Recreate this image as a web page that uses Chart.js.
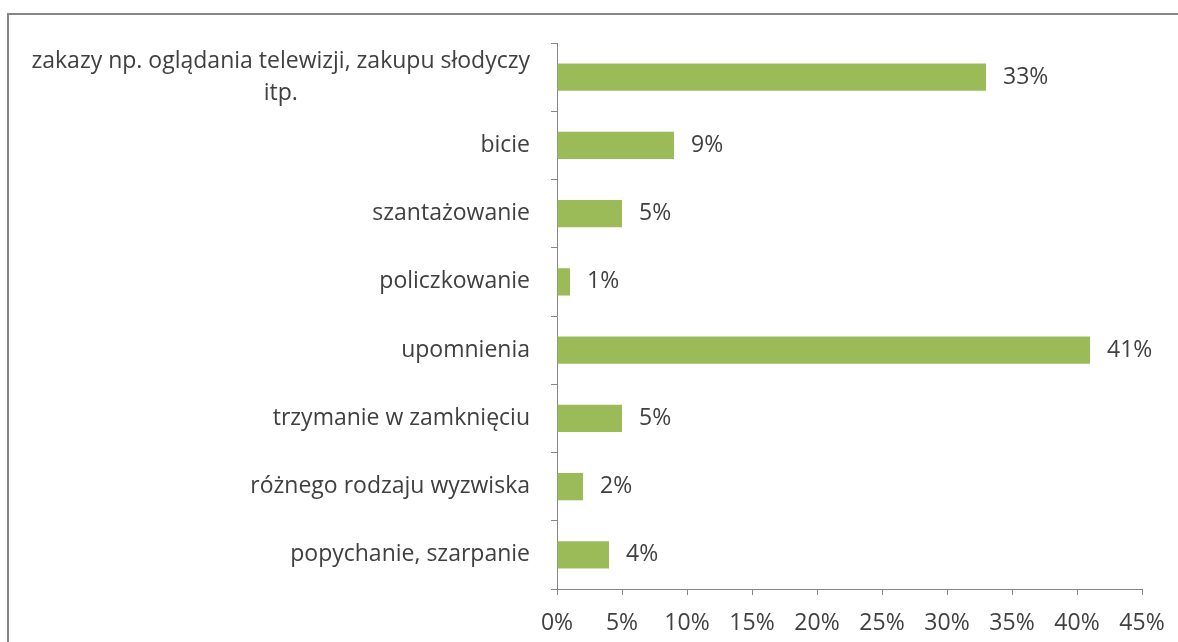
<!DOCTYPE html>
<html>
<head>
<meta charset="utf-8">
<script src="https://cdn.jsdelivr.net/npm/chart.js@4/dist/chart.umd.min.js"></script>
<style>
  html, body { margin: 0; padding: 0; background: #ffffff; overflow: hidden; }
  #frame { position: absolute; left: 7px; top: 13px; width: 1400px; height: 800px; border: 2px solid #868686; box-sizing: border-box; }
  #wrap { position: absolute; left: 0; top: 0; width: 1178px; height: 642px; }
</style>
</head>
<body>
<div id="frame"></div>
<div id="wrap"><canvas id="c" width="1178" height="642"></canvas></div>
<script>
const categories = [
  ["zakazy np. oglądania telewizji, zakupu słodyczy", "itp."],
  ["bicie"],
  ["szantażowanie"],
  ["policzkowanie"],
  ["upomnienia"],
  ["trzymanie w zamknięciu"],
  ["różnego rodzaju wyzwiska"],
  ["popychanie, szarpanie"]
];
const values = [33, 9, 5, 1, 41, 5, 2, 4];
const xTicks = [0, 5, 10, 15, 20, 25, 30, 35, 40, 45];

const FONT = "'Open Sans'";
const FS = 23;
const TXT = "#404040";
const AXIS = "#868686";

const yLabelPlugin = {
  id: 'yLabels',
  afterDraw(chart) {
    const ctx = chart.ctx;
    const sc = chart.scales.y;
    ctx.save();
    ctx.font = FS + "px " + FONT;
    ctx.fillStyle = TXT;
    ctx.textBaseline = 'middle';
    const right = sc.right - 6 - 21;
    const lh = 32;
    categories.forEach((lines, i) => {
      const yc = sc.getPixelForTick(i);
      const maxW = Math.max(...lines.map(l => ctx.measureText(l).width));
      const y0 = yc - (lines.length - 1) * lh / 2;
      lines.forEach((l, j) => {
        if (lines.length > 1) {
          ctx.textAlign = 'center';
          ctx.fillText(l, right - maxW / 2, y0 + j * lh);
        } else {
          ctx.textAlign = 'right';
          ctx.fillText(l, right, y0 + j * lh);
        }
      });
    });
    ctx.restore();
  }
};

const valueLabelPlugin = {
  id: 'valLabels',
  afterDatasetsDraw(chart) {
    const ctx = chart.ctx;
    const meta = chart.getDatasetMeta(0);
    ctx.save();
    ctx.font = FS + "px " + FONT;
    ctx.fillStyle = TXT;
    ctx.textBaseline = 'middle';
    ctx.textAlign = 'left';
    meta.data.forEach((bar, i) => {
      ctx.fillText(values[i] + "%", bar.x + 17, bar.y);
    });
    ctx.restore();
  }
};

new Chart(document.getElementById('c'), {
  type: 'bar',
  data: {
    labels: categories.map(c => c.join(' ')),
    datasets: [{
      data: values,
      backgroundColor: '#9BBB59',
      borderWidth: 0,
      categoryPercentage: 1.0,
      barPercentage: 0.4
    }]
  },
  options: {
    indexAxis: 'y',
    responsive: false,
    animation: false,
    devicePixelRatio: 1,
    layout: { padding: { top: 43, right: 36, left: 0, bottom: 0 } },
    plugins: { legend: { display: false }, tooltip: { enabled: false } },
    scales: {
      x: {
        min: 0, max: 45,
        afterBuildTicks(scale) { scale.ticks = xTicks.map(v => ({ value: v })); },
        afterFit(scale) { scale.height = 53; scale.paddingRight = 0; scale.paddingLeft = 0; },
        border: { display: true, color: AXIS, width: 1 },
        grid: { display: true, drawOnChartArea: false, drawTicks: true, tickLength: 6, color: AXIS },
        ticks: {
          color: TXT, padding: 15,
          font: { family: FONT, size: FS },
          maxRotation: 0, autoSkip: false,
          callback: v => v + "%"
        }
      },
      y: {
        afterFit(scale) { scale.width = 557; },
        border: { display: true, color: AXIS, width: 1 },
        grid: { display: true, drawOnChartArea: false, drawTicks: true, tickLength: 6, color: AXIS, offset: true },
        ticks: { display: false }
      }
    }
  },
  plugins: [yLabelPlugin, valueLabelPlugin]
});
</script>
</body>
</html>
